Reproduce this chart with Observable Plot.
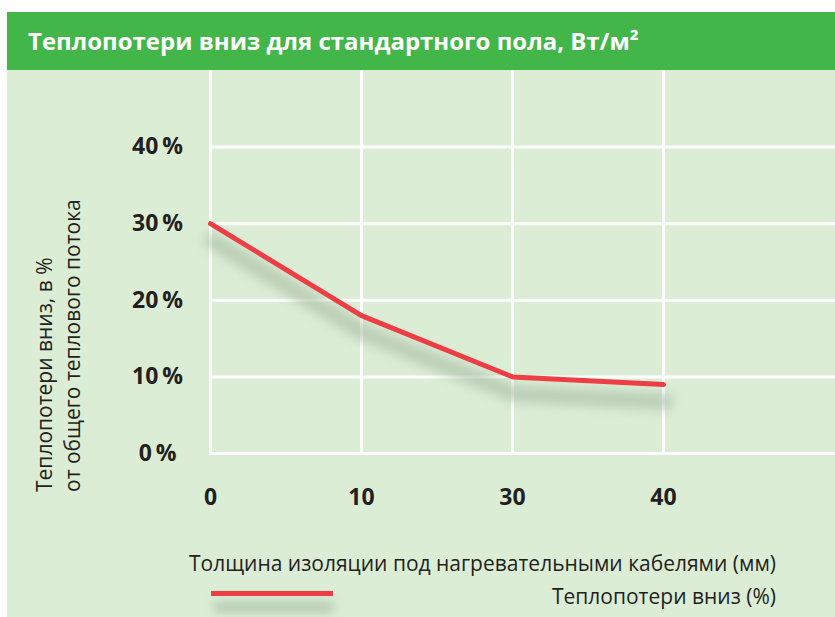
<!DOCTYPE html>
<html><head><meta charset="utf-8">
<script src="https://cdn.jsdelivr.net/npm/d3@7"></script>
<script src="https://cdn.jsdelivr.net/npm/@observablehq/plot@0.6"></script>
<style>
body{margin:0;background:#fff;font-family:"Open Sans",sans-serif;color:#231f20;}
#wrap{position:relative;width:835px;height:617px;overflow:hidden;}
#panel{position:absolute;left:7px;top:12px;right:0;bottom:0;background:#dcedd6;}
#header{position:absolute;left:7px;top:12px;right:0;height:58px;background:#42b649;color:#fff;font-weight:700;font-size:24px;line-height:58px;padding-left:21px;box-sizing:border-box;white-space:nowrap;}
#chart{position:absolute;left:0;top:0;}
#ytitle{position:absolute;left:30px;top:492px;transform:rotate(-90deg);transform-origin:left top;font-size:21px;line-height:28px;white-space:nowrap;}
.ltext{position:absolute;right:59px;font-size:21px;line-height:28px;white-space:nowrap;}
#lbar{position:absolute;left:211px;top:591px;width:122px;height:5px;background:#ee3e45;}
#lshadow{position:absolute;left:214px;top:601px;width:120px;height:12px;background:#b3c8af;filter:blur(5px);opacity:0.85;}
</style></head>
<body>
<div id="wrap">
  <div id="panel"></div>
  <div id="header">Теплопотери вниз для стандартного пола, Вт/м²</div>
  <div id="ytitle">Теплопотери вниз, в %<br>от общего теплового потока</div>
  <div id="lshadow"></div>
  <div id="lbar"></div>
  <div class="ltext" style="top:549px">Толщина изоляции под нагревательными кабелями (мм)</div>
  <div class="ltext" style="top:582px">Теплопотери вниз (%)</div>
  <div id="chart"></div>
</div>
<script>
const thickness = ["0", "10", "30", "40"];
const loss = [30, 18, 10, 9];
const yTicks = [0, 10, 20, 30, 40];

const data = thickness.map((t, i) => ({t, v: loss[i]}));

const chart = Plot.plot({
  width: 835,
  height: 520,
  marginLeft: 209,
  marginRight: 0,
  marginTop: 70,
  marginBottom: 67,
  style: {background: "transparent", overflow: "visible", fontFamily: "Open Sans, sans-serif"},
  x: {type: "point", domain: thickness, range: [209, 663], padding: 0},
  y: {domain: [0, 50]},
  marks: [
    Plot.ruleY(yTicks, {stroke: "#fff", strokeWidth: 3}),
    Plot.ruleX(thickness, {y1: 0, y2: 50, stroke: "#fff", strokeWidth: 3}),
    Plot.line(data, {x: "t", y: "v", stroke: "#a9bfa5", strokeWidth: 16, dy: 17, dx: 2, strokeOpacity: 0.7, className: "shadow"}),
    Plot.line(data, {x: "t", y: "v", stroke: "#ee3e45", strokeWidth: 5}),
    Plot.axisY({ticks: yTicks, tickSize: 0, tickPadding: 52, textAnchor: "middle", tickFormat: d => d + "\u2009%", fontSize: 23, fontWeight: "bold", fill: "#231f20", label: null}),
    Plot.axisX({tickSize: 0, tickPadding: 35, fontSize: 23, fontWeight: "bold", fill: "#231f20", label: null})
  ]
});

const svg = d3.select(chart);
const f = svg.insert("defs", ":first-child").append("filter")
  .attr("id", "blurShadow").attr("x", "-20%").attr("y", "-50%").attr("width", "140%").attr("height", "200%");
f.append("feGaussianBlur").attr("stdDeviation", 6);
svg.selectAll(".shadow path").attr("filter", "url(#blurShadow)");

document.getElementById("chart").appendChild(chart);
</script>
</body></html>
